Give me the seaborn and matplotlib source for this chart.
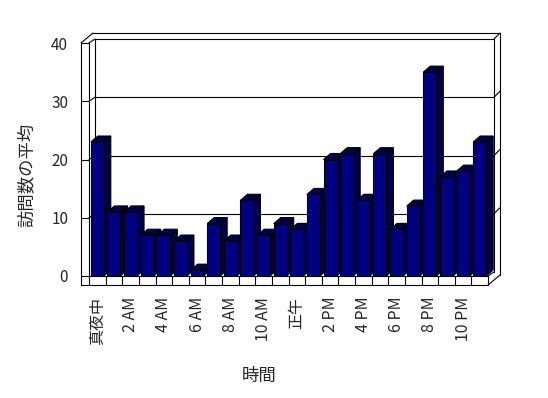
import matplotlib
matplotlib.use("Agg")
import matplotlib.pyplot as plt
from matplotlib.patches import Polygon
from matplotlib.lines import Line2D
import seaborn as sns
import pandas as pd

hours = ["真夜中", "1 AM", "2 AM", "3 AM", "4 AM", "5 AM", "6 AM", "7 AM",
         "8 AM", "9 AM", "10 AM", "11 AM", "正午", "1 PM", "2 PM", "3 PM",
         "4 PM", "5 PM", "6 PM", "7 PM", "8 PM", "9 PM", "10 PM", "11 PM"]
visits = [23, 11, 11, 7, 7, 6, 1, 9, 6, 13, 7, 9, 8, 14, 20, 21, 13, 21, 8, 12, 35, 17, 18, 23]
yticks = [0, 10, 20, 30, 40]
xlabel = "時間"
ylabel = "訪問数の平均"

sns.set_style("white")
plt.rcParams['font.family'] = ['Noto Sans CJK JP', 'DejaVu Sans']

W, H = 548, 398
fig = plt.figure(figsize=(W / 100, H / 100), dpi=100)
fig.patch.set_facecolor("white")

X0, X1 = 89, 488          # front plane, pixels
YB, YT = 276, 43          # value 0 and 40 (image rows)
ax = fig.add_axes([X0 / W, (H - YB) / H, (X1 - X0) / W, (YB - YT) / H])

df = pd.DataFrame({"hour": hours, "visits": visits})
sns.barplot(data=df, x="hour", y="visits", order=hours, color="#000080",
            saturation=1, width=0.78, edgecolor="black", linewidth=0.8, ax=ax)

ax.set_ylim(0, 40)
ax.set_xlim(-0.5, len(hours) - 0.5)
for s in ax.spines.values():
    s.set_visible(False)
ax.set_facecolor("none")
ax.set_yticks(yticks)
ax.set_yticklabels([str(v) for v in yticks], fontsize=11)
ax.set_xticks(range(0, len(hours), 2))
ax.set_xticklabels(hours[::2], rotation=90, fontsize=11.5, va="top", ha="center")
ax.tick_params(axis="y", length=0, pad=15)
ax.tick_params(axis="x", length=0, pad=15)
ax.set_xlabel("")
ax.set_ylabel("")

fig.canvas.draw()
tD = ax.transData

def disp(x, y):
    return tD.transform((x, y))

# geometry in display pixels (y up)
x0d, y0d = disp(-0.5, 0)
x1d, ytd = disp(len(hours) - 0.5, 40)
bx, by = 6, 4      # back plane offset
ox, oy = 12, 10    # outer wall offset
lw_ = 8            # left wall thickness
ft = 9             # floor thickness

lines = []
def seg(p, q):
    lines.append(([p[0], q[0]], [p[1], q[1]]))

# back wall inner rectangle
seg((x0d + bx, ytd + by), (x1d + bx, ytd + by))
seg((x1d + bx, y0d + by), (x1d + bx, ytd + by))
seg((x0d + bx, y0d + by), (x0d + bx, ytd + by))
# outer top/right
seg((x0d + ox - 8, ytd + oy), (x1d + ox, ytd + oy))
seg((x1d + ox, y0d + 1), (x1d + ox, ytd + oy))
seg((x1d + bx, ytd + by), (x1d + ox, ytd + oy))
# left wall
seg((x0d - lw_, y0d - ft), (x0d - lw_, ytd))
seg((x0d, y0d), (x0d, ytd))
seg((x0d - lw_, ytd), (x0d, ytd))
seg((x0d - lw_, ytd), (x0d + ox - 8, ytd + oy))
seg((x0d, ytd), (x0d + bx, ytd + by))
# gridlines
for v in yticks[1:-1]:
    _, yv = disp(0, v)
    seg((x0d + bx, yv + by), (x1d + bx, yv + by))
    seg((x0d - lw_, yv), (x0d, yv))
    seg((x0d, yv), (x0d + bx, yv + by))
    seg((x1d + bx, yv + by), (x1d + ox, yv + oy))
# floor
seg((x0d - lw_, y0d), (x1d, y0d))
seg((x0d - lw_, y0d - ft), (x1d, y0d - ft))
seg((x1d, y0d - ft), (x1d, y0d))
seg((x1d, y0d - ft), (x1d + ox, y0d + 1))
seg((x1d, y0d), (x1d + bx, y0d + by))
for i in range(len(hours)):
    xb, _ = disp(i - 0.5, 0)
    seg((xb, y0d - ft), (xb, y0d))

for xs, ys in lines:
    fig.add_artist(Line2D(xs, ys, transform=None, color="black", lw=0.8, zorder=1))

# 3D bar faces
dx, dy = 7, 6
side_col = "#00004a"
for i, p in enumerate(ax.patches):
    bb = p.get_window_extent(fig.canvas.get_renderer())
    l, r, b, t = bb.x0, bb.x1, bb.y0, bb.y1
    z = 3 + i * 3
    side = Polygon([(r, b), (r + dx, b + dy), (r + dx, t + dy), (r, t)], closed=True,
                   transform=None, facecolor=side_col, edgecolor="black", lw=0.8, zorder=z)
    top = Polygon([(l, t), (l + dx, t + dy), (r + dx, t + dy), (r, t)], closed=True,
                  transform=None, facecolor=side_col, edgecolor="black", lw=0.8, zorder=z + 1)
    fig.add_artist(side)
    fig.add_artist(top)
    p.set_zorder(z + 2)
    p.remove()
    fig.add_artist(p)
    p.set_transform(tD)

fig.text(27 / W, (H - 175) / H, ylabel, rotation=90, ha="center", va="center", fontsize=12.5)
fig.text(259 / W, (H - 376) / H, xlabel, ha="center", va="center", fontsize=12.5)

fig.savefig("out.png", dpi=100)
